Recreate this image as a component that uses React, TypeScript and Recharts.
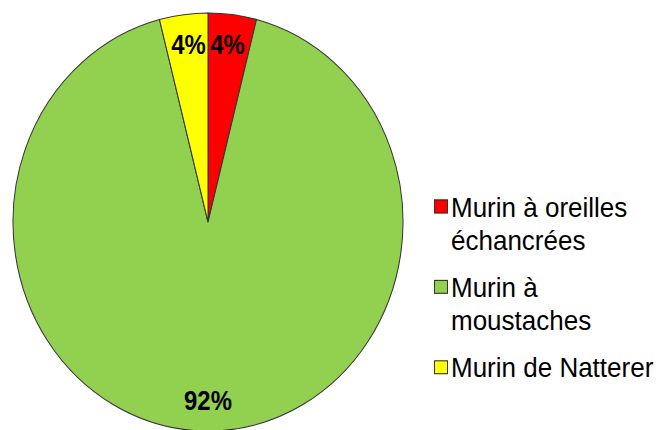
import { PieChart, Pie, Cell, Legend } from "recharts"

const species = ["Murin à oreilles échancrées", "Murin à moustaches", "Murin de Natterer"]
const counts = [1, 23, 1]
const COLORS = ["#ff0000", "#92d050", "#ffff00"]

const data = species.map((name, i) => ({ name, value: counts[i] }))

const RAD = Math.PI / 180
const FONT = "'Liberation Sans', Arial, sans-serif"

// Excel-style labels, a bit condensed
const renderLabel = (props: any) => {
  const { cx, cy, midAngle, outerRadius, percent } = props
  const x = cx + outerRadius * 0.8 * Math.cos(-midAngle * RAD)
  const y = cy + outerRadius * 0.855 * Math.sin(-midAngle * RAD)
  return (
    <text
      transform={`translate(${x},${y}) scale(0.92,1)`}
      x={0}
      y={0}
      textAnchor="middle"
      dominantBaseline="central"
      fontFamily={FONT}
      fontWeight="bold"
      fontSize={26}
      fill="#000"
    >
      {`${Math.round(percent * 100)}%`}
    </text>
  )
}

const LegendList = (props: any) => {
  const items = [...(props.payload || [])].sort(
    (a: any, b: any) => species.indexOf(a.value) - species.indexOf(b.value)
  )
  return (
    <div style={{ fontFamily: FONT, fontSize: 26, lineHeight: "31px", color: "#000" }}>
      {items.map((entry: any, i: number) => (
        <div key={`item-${i}`} style={{ display: "flex", marginBottom: 13 }}>
          <div
            style={{
              width: 12,
              height: 11,
              marginTop: 8,
              marginRight: 3,
              background: entry.color,
              border: "1px solid #333",
              flexShrink: 0,
            }}
          />
          <div style={{ width: 210 }}>{entry.value}</div>
        </div>
      ))}
    </div>
  )
}

export default function App() {
  return (
    <div style={{ position: "absolute", left: 0, top: 0, width: 664, height: 430, overflow: "hidden", background: "#fff" }}>
      <div style={{ transform: "scaleY(1.072)", transformOrigin: "0 222px" }}>
        <PieChart width={664} height={430} margin={{ top: 0, right: 0, bottom: 0, left: 0 }}>
          <Pie
            data={data}
            dataKey="value"
            nameKey="name"
            cx={208}
            cy={222}
            outerRadius={195}
            startAngle={90}
            endAngle={-270}
            label={renderLabel}
            labelLine={false}
            stroke="#333"
            strokeWidth={1}
            isAnimationActive={false}
          >
            {data.map((entry, index) => (
              <Cell key={`cell-${index}`} fill={COLORS[index % COLORS.length]} />
            ))}
          </Pie>
          <Legend
            content={<LegendList />}
            wrapperStyle={{ position: "absolute", left: 434, top: 193, width: 230, bottom: "auto" }}
          />
        </PieChart>
      </div>
    </div>
  )
}
